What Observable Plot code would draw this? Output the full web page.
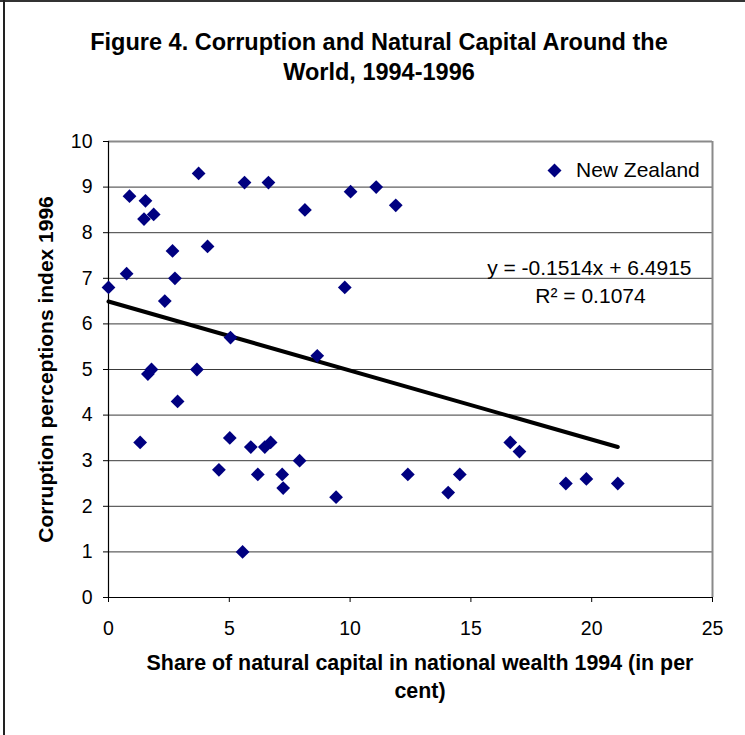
<!DOCTYPE html>
<html>
<head>
<meta charset="utf-8">
<script src="https://cdn.jsdelivr.net/npm/d3@7"></script>
<script src="https://cdn.jsdelivr.net/npm/@observablehq/plot@0.6"></script>
<style>
  html, body { margin: 0; padding: 0; background: #fff; }
  #wrap { position: relative; width: 745px; height: 735px; overflow: hidden; background: #fff;
          font-family: "Liberation Sans", Arial, sans-serif; color: #000; }
  #topline { position: absolute; left: 0; top: 0; width: 745px; height: 2px; background: #333; }
  #leftline { position: absolute; left: 3px; top: 0; width: 2px; height: 735px; background: #222; }
  #title { position: absolute; left: 0; width: 758px; top: 27px; text-align: center;
           font-weight: bold; font-size: 23.5px; line-height: 30px; }
  #chart { position: absolute; left: 0; top: 110px; }
  #xtitle { position: absolute; left: 0; width: 840px; top: 649px; text-align: center;
            font-weight: bold; font-size: 21.4px; line-height: 28px; }
  #legend { position: absolute; left: 547px; top: 158px; display: flex; align-items: center;
            font-size: 21px; height: 24px; }
  #legend svg { margin-right: 14px; }
</style>
</head>
<body>
<div id="wrap">
  <div id="topline"></div>
  <div id="leftline"></div>
  <div id="title">Figure 4. Corruption and Natural Capital Around the<br>World, 1994-1996</div>
  <div id="chart"></div>
  <div id="legend"><svg width="15" height="15" viewBox="-7.5 -7.5 15 15"><path d="M0,-7L7,0L0,7L-7,0Z" fill="#000080"/></svg><span>New Zealand</span></div>
  <div id="xtitle">Share of natural capital in national wealth 1994 (in per<br>cent)</div>
</div>
<script>
// Share of natural capital in national wealth 1994 (%)
const naturalCapital = [0, 0.75, 0.87, 1.53, 1.47, 1.87, 2.65, 2.75, 2.33, 3.73, 4.1, 5.05, 5.63, 6.62, 8.13, 9.78, 10.02, 11.08, 11.89, 8.64,
  1.63, 1.78, 3.66, 2.86, 1.31, 5.02, 4.57, 5.89, 6.18, 6.47, 6.71, 7.19, 7.23, 7.91, 5.55, 9.42,
  12.39, 14.06, 14.54, 16.63, 17.01, 18.93, 19.78, 21.08];
// Corruption perceptions index 1996
const cpi = [6.8, 7.1, 8.8, 8.7, 8.3, 8.4, 7.6, 7.0, 6.5, 9.3, 7.7, 5.7, 9.1, 9.1, 8.5, 6.8, 8.9, 9.0, 8.6, 5.3,
  4.9, 5.0, 5.0, 4.3, 3.4, 3.5, 2.8, 3.3, 2.7, 3.3, 3.4, 2.7, 2.4, 3.0, 1.0, 2.2,
  2.7, 2.3, 2.7, 3.4, 3.2, 2.5, 2.6, 2.5];
const seriesName = "New Zealand";
const trendSlope = -0.1514;
const trendIntercept = 6.4915;
const rSquared = 0.1074;
const xTicks = [0, 5, 10, 15, 20, 25];
const yTicks = [0, 1, 2, 3, 4, 5, 6, 7, 8, 9, 10];
const gridTicks = [1, 2, 3, 4, 5, 6, 7, 8, 9];
const titleText = "Figure 4. Corruption and Natural Capital Around the World, 1994-1996";
const yTitle = "Corruption perceptions index 1996";

const points = naturalCapital.map((x, i) => ({x, y: cpi[i]}));
const [xmin, xmax] = d3.extent(naturalCapital);
const trend = [xmin, xmax].map(x => ({x, y: trendIntercept + trendSlope * x}));
const eqText = `y = ${trendSlope.toFixed(4)}x + ${trendIntercept.toFixed(4)}`;
const r2Text = `R² = ${rSquared.toFixed(4)}`;

const chart = Plot.plot({
  width: 745,
  height: 535,
  marginLeft: 108,
  marginRight: 33,
  marginTop: 31,
  marginBottom: 48,
  style: {fontFamily: "'Liberation Sans', Arial, sans-serif", fontSize: "19.5px", color: "#000", background: "transparent", overflow: "visible"},
  x: {domain: [0, 25]},
  y: {domain: [0, 10]},
  marks: [
    Plot.gridY(gridTicks, {stroke: "#3a3a3a", strokeOpacity: 1, strokeWidth: 1}),
    Plot.ruleY([10], {stroke: "#8a8a8a", strokeWidth: 2}),
    Plot.ruleX([25], {stroke: "#8a8a8a", strokeWidth: 2}),
    Plot.axisX({ticks: xTicks, tickSize: 5, tickPadding: 19, label: null, stroke: "#000", tickFormat: d3.format("d")}),
    Plot.axisY({ticks: yTicks, tickSize: 5, tickPadding: 11, label: null, stroke: "#000", tickFormat: d3.format("d")}),
    Plot.ruleY([0], {stroke: "#000", strokeWidth: 1.2}),
    Plot.ruleX([0], {stroke: "#000", strokeWidth: 1.2}),
    Plot.line(trend, {x: "x", y: "y", stroke: "#000", strokeWidth: 4}),
    Plot.dot(points, {x: "x", y: "y", symbol: "diamond2", fill: "#000080", stroke: "none", r: 6.2}),
    Plot.text([eqText], {frameAnchor: "top-right", textAnchor: "end", lineAnchor: "middle", dx: -21, dy: 126.4, fontSize: 21}),
    Plot.text([r2Text], {frameAnchor: "top-right", textAnchor: "middle", lineAnchor: "middle", dx: -122, dy: 154.4, fontSize: 21}),
    Plot.text([yTitle], {frameAnchor: "left", rotate: -90, textAnchor: "middle", lineAnchor: "middle", dx: -62, fontSize: 21, fontWeight: "bold"})
  ]
});
document.getElementById("chart").appendChild(chart);
</script>
</body>
</html>
